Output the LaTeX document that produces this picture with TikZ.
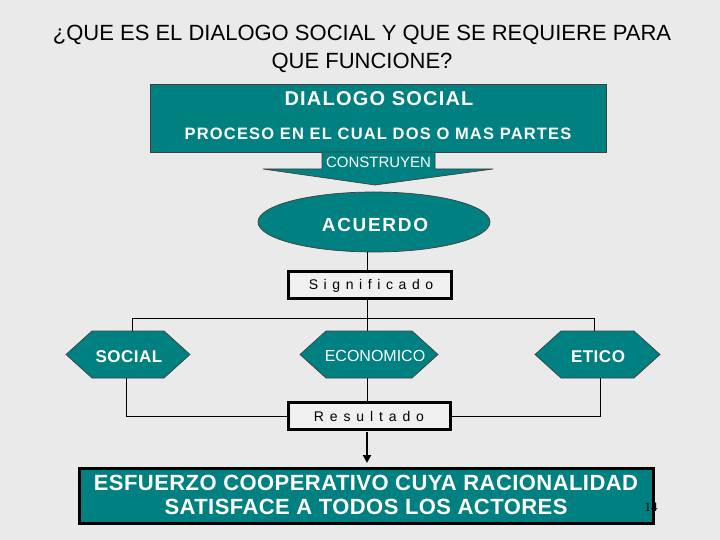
\documentclass[tikz,border=0pt]{standalone}
\usepackage{fontspec}
\setmainfont{Liberation Sans}
\newfontfamily\serifnum{Liberation Serif}
\usetikzlibrary{shapes.geometric,arrows.meta,calc}
\definecolor{bgc}{RGB}{234,234,234}
\definecolor{tealc}{RGB}{0,128,128}
\definecolor{boxfill}{RGB}{240,240,240}
\begin{document}
\begin{tikzpicture}[x=1pt,y=-1pt,
  tealbox/.style={draw=black!75,line width=0.7pt,fill=tealc},
  wtxt/.style={text=white,inner sep=0pt,anchor=base},
  framebox/.style={draw=black,line width=2.7pt,fill=boxfill,inner sep=0pt},
  conn/.style={draw=black,line width=0.9pt},
  hexst/.style={draw=black!75,line width=0.7pt,fill=tealc}]
\fill[bgc] (0,0) rectangle (720,540);
\useasboundingbox (0,0) rectangle (720,540);

% title
\node[inner sep=0pt,anchor=base,font=\fontsize{22}{26}\selectfont] (t1) at (362,41) {¿QUE ES EL DIALOGO SOCIAL Y QUE SE REQUIERE PARA};
\node[inner sep=0pt,anchor=base,font=\fontsize{22}{26}\selectfont] (t2) at (362,69) {QUE FUNCIONE?};

% top box
\node[tealbox,minimum width=456pt,minimum height=68pt,inner sep=0pt] (top) at (378,118) {};
\node[wtxt,font=\bfseries\fontsize{20}{24}\selectfont\addfontfeature{LetterSpace=6}] (dia) at (379,106) {DIALOGO SOCIAL};
\node[wtxt,font=\bfseries\fontsize{16.5}{20}\selectfont\addfontfeature{LetterSpace=7}] (proc) at (378,140) {PROCESO EN EL CUAL DOS O MAS PARTES};

% block arrow
\draw[tealbox] (322,152) -- (435,152) -- (435,169) -- (493,169) -- (375,185) -- (263,169) -- (322,169) -- cycle;
\node[wtxt,font=\fontsize{15}{18}\selectfont] (cons) at (378.5,167.5) {CONSTRUYEN};

% ellipse
\node[ellipse,tealbox,minimum width=232pt,minimum height=60pt,inner sep=0pt] (acu) at (374,222) {};
\node[wtxt,font=\bfseries\fontsize{19}{22}\selectfont\addfontfeature{LetterSpace=9}] (acut) at (375,231) {ACUERDO};

% significado / resultado boxes
\node[framebox,minimum width=163pt,minimum height=27.5pt] (sig) at (370,285) {};
\node[inner sep=0pt,anchor=base,font=\fontsize{14}{17}\selectfont\addfontfeature{LetterSpace=40}] (sigt) at (371,289) {Significado};
\node[framebox,minimum width=162pt,minimum height=27pt] (res) at (369.5,416.3) {};
\node[inner sep=0pt,anchor=base,font=\fontsize{14}{17}\selectfont\addfontfeature{LetterSpace=42}] (rest) at (369,421) {Resultado};

% connectors (behind hexagons)
\coordinate (acub) at (367,251.5);
\coordinate (sigt0) at (367,271.4);
\coordinate (sigb) at (367,298.6);
\coordinate (resn) at (367,403);
\coordinate (jn) at (367,318.3);
\coordinate (socT) at (132,331);
\coordinate (etiT) at (594,331);
\coordinate (socB) at (126.7,378);
\coordinate (etiB) at (600.7,378);
\draw[conn] (acub) -- (sigt0);
\draw[conn] (sigb) -- (resn);
\draw[conn] (socT) |- (jn) -| (etiT);
\draw[conn] (socB) |- (res.west);
\draw[conn] (etiB) |- (res.east);

% hexagons
\draw[hexst] (66,354.5) -- (92,331) -- (164,331) -- (190,354.5) -- (164,378) -- (92,378) -- cycle;
\draw[hexst] (300,354.5) -- (326,331) -- (412,331) -- (438,354.5) -- (412,378) -- (326,378) -- cycle;
\draw[hexst] (535,354.5) -- (561,331) -- (634,331) -- (660,354.5) -- (634,378) -- (561,378) -- cycle;
\node[wtxt,font=\bfseries\fontsize{17}{20}\selectfont\addfontfeature{LetterSpace=3}] (soc) at (129,362) {SOCIAL};
\node[wtxt,font=\fontsize{16}{19}\selectfont] (eco) at (375,361) {ECONOMICO};
\node[wtxt,font=\bfseries\fontsize{17}{20}\selectfont\addfontfeature{LetterSpace=3}] (eti) at (598,362) {ETICO};

% bottom box
\node[draw=black,line width=3pt,fill=tealc,minimum width=574pt,minimum height=55pt,inner sep=0pt] (bot) at (366.5,496) {};
\node[wtxt,font=\bfseries\fontsize{22}{26}\selectfont\addfontfeature{LetterSpace=2}] (b1) at (366,490) {ESFUERZO COOPERATIVO CUYA RACIONALIDAD};
\node[wtxt,font=\bfseries\fontsize{22}{26}\selectfont\addfontfeature{LetterSpace=2}] (b2) at (366,514) {SATISFACE A TODOS LOS ACTORES};
\coordinate (arrs) at (367,432);
\draw[line width=2.8pt,-{Triangle[width=8pt,length=8pt]},shorten >=4pt] (arrs) -- (arrs |- bot.north);

\node[inner sep=0pt,anchor=base,font=\serifnum\fontsize{13}{15}\selectfont] (pg) at (651,511) {14};
\end{tikzpicture}
\end{document}
